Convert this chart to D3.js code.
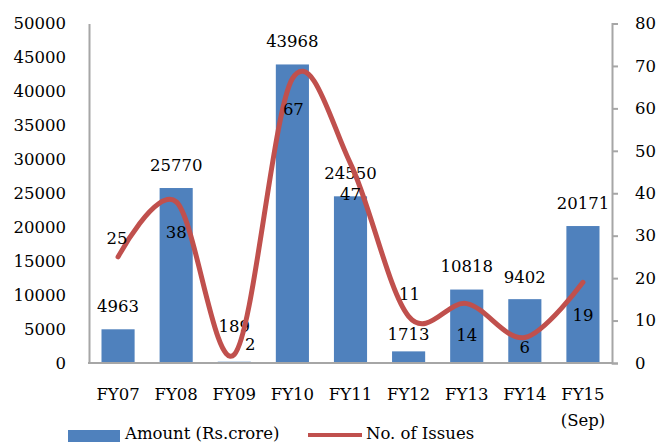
<!DOCTYPE html>
<html>
<head>
<meta charset="utf-8">
<script src="https://cdn.jsdelivr.net/npm/d3@7"></script>
<style>
  html, body { margin: 0; padding: 0; background: #fff; }
  svg { display: block; }
  text { font-family: "DejaVu Serif", serif; fill: #000; }
</style>
</head>
<body>
<svg id="chart" width="667" height="443"></svg>
<script>
// Public issues by fiscal year
const categories = ["FY07", "FY08", "FY09", "FY10", "FY11", "FY12", "FY13", "FY14", "FY15\n(Sep)"];
const amounts = [4963, 25770, 189, 43968, 24550, 1713, 10818, 9402, 20171];   // Rs. crore
const issues = [25, 38, 2, 67, 47, 11, 14, 6, 19];                             // number of issues
const amountTicks = [0, 5000, 10000, 15000, 20000, 25000, 30000, 35000, 40000, 45000, 50000];
const issueTicks = [0, 10, 20, 30, 40, 50, 60, 70, 80];

// Hand-placed label nudges (pixels) so labels avoid the curve
const amountLabelLift = [23, 23, 35, 23, 23, 17, 23, 22, 23];
const issueLabelShift = [[-1, -18], [0, 31], [16, -10], [1, 31], [0, 31], [1, -22], [0, 32], [0, 10], [0, 33]];

const BLUE = "#4F81BD", RED = "#C0504D", AXIS = "#A6A6A6";
const FONT = 16.5;

const svg = d3.select("#chart");
const plotLeft = 89, plotRight = 612, plotTop = 23.5, plotBottom = 363;

const x = d3.scaleBand().domain(categories).range([plotLeft, plotRight])
  .paddingInner(0.43).paddingOuter(0.215);
const yL = d3.scaleLinear().domain([0, 50000]).range([plotBottom, plotTop]);
const yR = d3.scaleLinear().domain([0, 80]).range([plotBottom, plotTop]);
const cx = i => x(categories[i]) + x.bandwidth() / 2;

// Bars
svg.append("g").selectAll("rect").data(amounts).join("rect")
  .attr("x", (d, i) => x(categories[i]))
  .attr("y", d => yL(d))
  .attr("width", x.bandwidth())
  .attr("height", d => plotBottom - yL(d))
  .attr("fill", BLUE);

// Left axis (no tick marks)
const axL = svg.append("g").attr("transform", `translate(${plotLeft},0)`)
  .call(d3.axisLeft(yL).tickValues(amountTicks).tickSize(0).tickPadding(23).tickFormat(d3.format("d")));
axL.select(".domain").attr("stroke", AXIS).attr("stroke-width", 2);
axL.selectAll("text").attr("font-size", FONT).attr("font-family", "DejaVu Serif");

// Right axis with outward ticks
const axR = svg.append("g").attr("transform", `translate(${plotRight},0)`)
  .call(d3.axisRight(yR).tickValues(issueTicks).tickSizeInner(6).tickSizeOuter(6).tickPadding(17));
axR.select(".domain").attr("stroke", AXIS).attr("stroke-width", 2);
axR.selectAll(".tick line").attr("stroke", AXIS).attr("stroke-width", 2);
axR.selectAll("text").attr("font-size", FONT).attr("font-family", "DejaVu Serif");

// Category axis
const axB = svg.append("g").attr("transform", `translate(0,${plotBottom})`)
  .call(d3.axisBottom(x).tickSize(0).tickPadding(0).tickFormat(""));
axB.select(".domain").attr("stroke", AXIS).attr("stroke-width", 2).attr("d", `M${plotLeft - 1},0H${plotRight + 1}`);
axB.selectAll(".tick").each(function (d) {
  const lines = d.split("\n");
  const t = d3.select(this).append("text")
    .attr("text-anchor", "middle").attr("font-size", FONT).attr("y", 37);
  lines.forEach((s, k) => t.append("tspan").attr("x", 0).attr("dy", k ? 26 : 0).text(s));
});

// Amount labels above bars
svg.append("g").selectAll("text").data(amounts).join("text")
  .attr("x", (d, i) => cx(i))
  .attr("y", (d, i) => yL(d) - amountLabelLift[i])
  .attr("text-anchor", "middle").attr("dominant-baseline", "central")
  .attr("font-size", FONT).text(d => d);

// Smoothed line for number of issues
const line = d3.line()
  .x((d, i) => cx(i))
  .y(d => yR(d))
  .curve(d3.curveCardinal.tension(0));
svg.append("path").datum(issues)
  .attr("d", line).attr("fill", "none")
  .attr("stroke", RED).attr("stroke-width", 5).attr("stroke-linecap", "round");

// Issue count labels
svg.append("g").selectAll("text").data(issues).join("text")
  .attr("x", (d, i) => cx(i) + issueLabelShift[i][0])
  .attr("y", (d, i) => yR(d) + issueLabelShift[i][1])
  .attr("text-anchor", "middle").attr("dominant-baseline", "central")
  .attr("font-size", FONT).text(d => d);

// Legend
const lg = svg.append("g");
lg.append("rect").attr("x", 68).attr("y", 430).attr("width", 52).attr("height", 12).attr("fill", BLUE);
lg.append("text").attr("x", 125).attr("y", 433.5).attr("dominant-baseline", "central")
  .attr("font-size", FONT).text("Amount (Rs.crore)");
lg.append("line").attr("x1", 308).attr("x2", 362).attr("y1", 435).attr("y2", 435)
  .attr("stroke", RED).attr("stroke-width", 4);
lg.append("text").attr("x", 366).attr("y", 433.5).attr("dominant-baseline", "central")
  .attr("font-size", FONT).text("No. of Issues");
</script>
</body>
</html>
